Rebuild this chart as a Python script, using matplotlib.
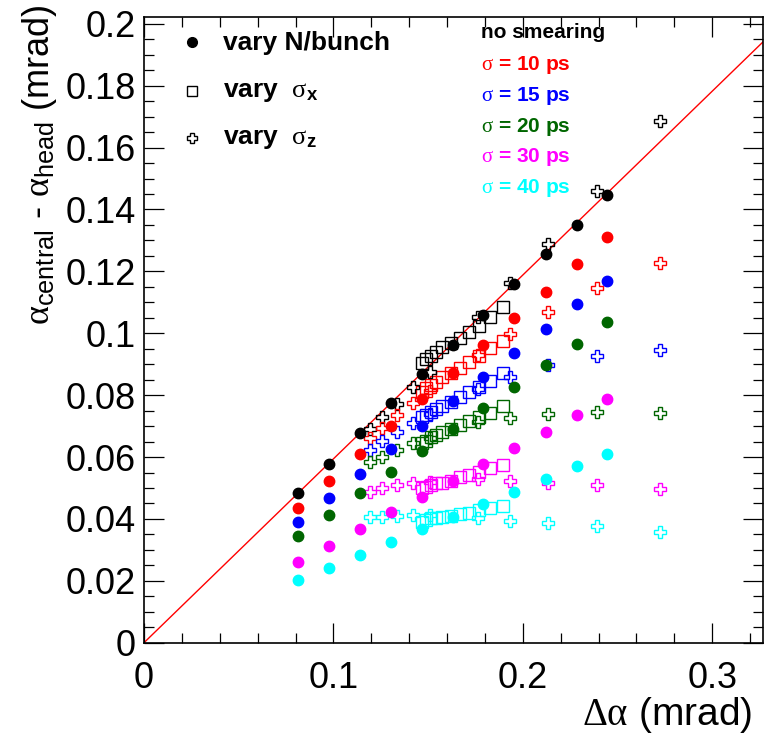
import matplotlib

matplotlib.use("Agg")
import matplotlib.pyplot as plt
from matplotlib.ticker import MultipleLocator, FormatStrFormatter
import numpy as np

# --- data ---
colors = ["black", "#ff0000", "#0000ff", "#006600", "#ff00ff", "#00ffff"]
labels = ["no smearing", "10", "15", "20", "30", "40"]

# vary N/bunch (filled dots)
dot_x = [0.0815, 0.0979, 0.1140, 0.1304, 0.1466, 0.1630, 0.1792, 0.1954, 0.2121, 0.2285, 0.2443]
dot_y = [
    [0.0483, 0.0578, 0.0677, 0.0774, 0.0868, 0.0962, 0.1059, 0.1158, 0.1255, 0.1350, 0.1446],
    [0.0436, 0.0522, 0.0610, 0.0700, 0.0786, 0.0872, 0.0962, 0.1048, 0.1134, 0.1223, 0.1310],
    [0.0389, 0.0468, 0.0545, 0.0626, 0.0701, 0.0781, 0.0858, 0.0935, 0.1015, 0.1093, 0.1169],
    [0.0344, 0.0414, 0.0483, 0.0551, 0.0620, 0.0689, 0.0758, 0.0827, 0.0897, 0.0965, 0.1035],
    [0.0262, 0.0313, 0.0366, 0.0422, 0.0472, 0.0523, 0.0577, 0.0629, 0.0682, 0.0735, 0.0786],
    [0.0203, 0.0242, 0.0283, 0.0325, 0.0366, 0.0407, 0.0448, 0.0488, 0.0530, 0.0571, 0.0610],
]

# vary sigma_x (open squares)
sq_x = [0.1466, 0.1487, 0.1513, 0.1542, 0.1572, 0.1621, 0.1669, 0.1716, 0.1769, 0.1827, 0.1897]
sq_y = [
    [0.0903, 0.0916, 0.0926, 0.0940, 0.0954, 0.0967, 0.0985, 0.1003, 0.1023, 0.1053, 0.1086],
    [0.0811, 0.0822, 0.0833, 0.0843, 0.0859, 0.0872, 0.0887, 0.0908, 0.0926, 0.0951, 0.0976],
    [0.0728, 0.0736, 0.0746, 0.0754, 0.0765, 0.0779, 0.0795, 0.0811, 0.0827, 0.0847, 0.0870],
    [0.0644, 0.0653, 0.0664, 0.0671, 0.0682, 0.0689, 0.0703, 0.0717, 0.0728, 0.0743, 0.0765],
    [0.0499, 0.0504, 0.0510, 0.0515, 0.0517, 0.0523, 0.0534, 0.0542, 0.0553, 0.0563, 0.0574],
    [0.0391, 0.0396, 0.0402, 0.0404, 0.0407, 0.0409, 0.0415, 0.0420, 0.0429, 0.0434, 0.0442],
]

# vary sigma_z (open crosses)
cr_x = [0.1193, 0.1255, 0.1334, 0.1420, 0.1510, 0.1765, 0.1932, 0.2131, 0.2390, 0.2724]
cr_y = [
    [0.0690, 0.0730, 0.0773, 0.0827, 0.0876, 0.1053, 0.1161, 0.1290, 0.1460, 0.1687],
    [0.0660, 0.0693, 0.0735, 0.0775, 0.0815, 0.0930, 0.0998, 0.1070, 0.1145, 0.1226],
    [0.0623, 0.0653, 0.0682, 0.0711, 0.0738, 0.0819, 0.0859, 0.0897, 0.0926, 0.0946],
    [0.0583, 0.0599, 0.0623, 0.0644, 0.0660, 0.0712, 0.0727, 0.0739, 0.0746, 0.0743],
    [0.0488, 0.0499, 0.0510, 0.0515, 0.0520, 0.0528, 0.0523, 0.0517, 0.0510, 0.0496],
    [0.0406, 0.0407, 0.0409, 0.0412, 0.0413, 0.0402, 0.0394, 0.0386, 0.0377, 0.0359],
]

line_slope = 0.594
x_max, y_max = 0.3267, 0.2023

plt.rcParams["font.family"] = ["Liberation Sans", "DejaVu Sans"]
plt.rcParams["mathtext.fontset"] = "custom"
plt.rcParams["mathtext.rm"] = "Liberation Serif"
plt.rcParams["mathtext.sf"] = "Liberation Sans"
plt.rcParams["mathtext.bf"] = "Liberation Sans:bold"
plt.rcParams["mathtext.it"] = "Liberation Serif:italic"

W, H = 776, 734
fig = plt.figure(figsize=(W / 100, H / 100), dpi=100)
ax = fig.add_axes([144 / W, 1 - 642.7 / H, 618.7 / W, 626 / H])

xs = np.linspace(0, x_max, 2)
ax.plot(xs, line_slope * xs, color="#ff0000", lw=1.0, zorder=1)

for col, sy, cy, dy in zip(colors, sq_y, cr_y, dot_y):
    ax.plot(sq_x, sy, ls="none", marker="s", ms=8, mfc="none", mec=col, mew=1.0, zorder=2)
    ax.plot(cr_x, cy, ls="none", marker="P", ms=9, mfc="none", mec=col, mew=1.0, zorder=3)
    ax.plot(dot_x, dy, ls="none", marker="o", ms=7.5, color=col, zorder=4)

ax.set_xlim(0, x_max)
ax.set_ylim(0, y_max)
ax.xaxis.set_major_locator(MultipleLocator(0.1))
ax.xaxis.set_minor_locator(MultipleLocator(0.02))
ax.yaxis.set_major_locator(MultipleLocator(0.02))
ax.yaxis.set_minor_locator(MultipleLocator(0.005))
ax.xaxis.set_major_formatter(FormatStrFormatter("%g"))
ax.yaxis.set_major_formatter(FormatStrFormatter("%g"))
ax.tick_params(which="both", direction="in", top=True, right=True, width=0.9, labelsize=26)
ax.tick_params(which="major", length=14.4)
ax.tick_params(which="minor", length=7.2)
ax.tick_params(axis="x", pad=13)
ax.tick_params(axis="y", pad=6)
for sp in ax.spines.values():
    sp.set_linewidth(1.2)

# axis titles
fig.text(40 / W, 1 - 4 / H,
         r"$\mathrm{\alpha}_{\mathsf{central}}$ - $\mathrm{\alpha}_{\mathsf{head}}$ (mrad)",
         rotation=90, ha="center", va="top", fontsize=26)
fig.text(752 / W, 1 - 715 / H, r"$\mathrm{\Delta\alpha}$ (mrad)", ha="right", va="center", fontsize=28)


def ax_pt(px, py):
    return (px - 144) / 618.7, (642.7 - py) / 626


# legend on the left
leg_items = [("o", 7, "black", "vary N/bunch", 42),
             ("s", 7, "none", r"vary  $\mathrm{\sigma}_{\mathbf{x}}$", 91),
             ("P", 7.5, "none", r"vary  $\mathrm{\sigma}_{\mathbf{z}}$", 138)]
for mk, ms, fc, txt, py in leg_items:
    mx, my = ax_pt(192, py)
    ax.plot([mx], [my], transform=ax.transAxes, marker=mk, ms=ms, mfc=fc, mec="black",
            mew=1.0, ls="none", clip_on=False)
    tx, ty = ax_pt(223, py + 1)
    ax.text(tx, ty, txt, transform=ax.transAxes, ha="left", va="center",
            fontsize=19, fontweight="bold")

# smearing labels on the right
right_y = [33, 65, 96, 127, 157, 188]
for col, lab, py in zip(colors, labels, right_y):
    txt = lab if lab == "no smearing" else r"$\mathrm{\sigma}$ = " + lab + " ps"
    tx, ty = ax_pt(481, py)
    ax.text(tx, ty, txt, transform=ax.transAxes, ha="left", va="center", color=col,
            fontsize=15, fontweight="bold")

fig.savefig("out.png", dpi=100)
plt.close(fig)
